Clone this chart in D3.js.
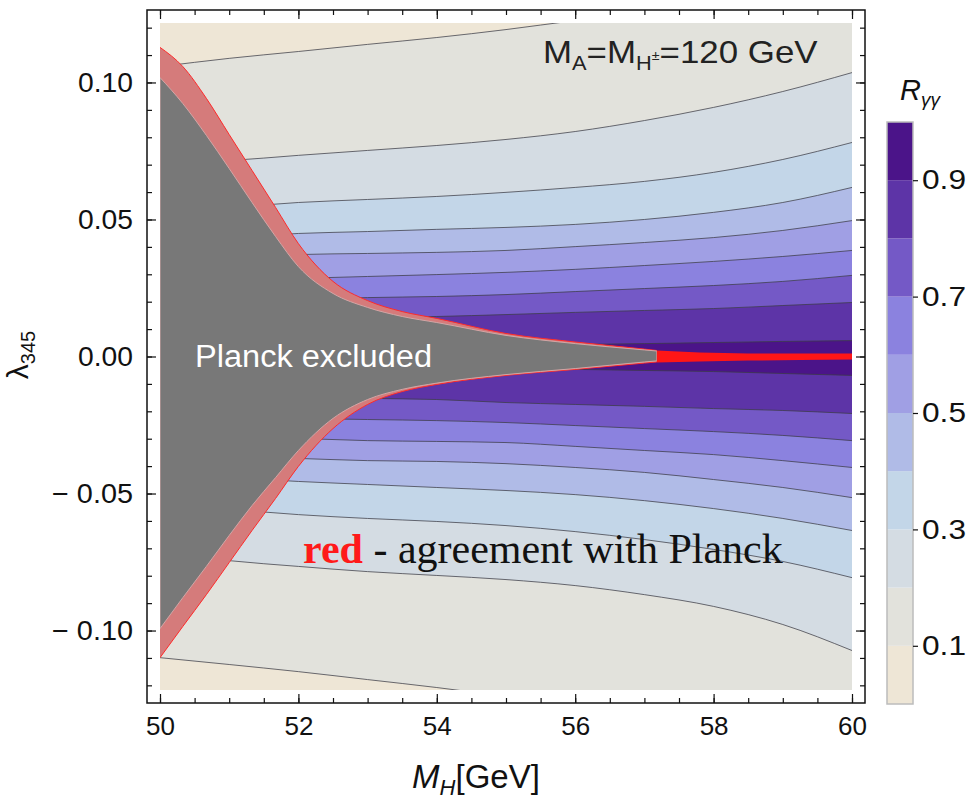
<!DOCTYPE html>
<html>
<head>
<meta charset="utf-8">
<script src="https://cdn.jsdelivr.net/npm/d3@7"></script>
<style>
body { margin: 0; background: #fff; }
svg { display: block; }
</style>
</head>
<body>
<div id="chart"></div>
<script>
// lambda_345 of each R_gg contour at these M_H values
var massPts = [50, 51, 52, 53, 54, 55, 56, 57, 58, 59, 60];
var levels = [0.1, 0.2, 0.3, 0.4, 0.5, 0.6, 0.7, 0.8, 0.9];

var upperLambda = [
  [0.1058, 0.1088, 0.1113, 0.1139, 0.1164, 0.1193, 0.1226, 0.1255, 0.1281, 0.1307, 0.1332],
  [0.0704, 0.0715, 0.0734, 0.0752, 0.0770, 0.0792, 0.0821, 0.0861, 0.0909, 0.0967, 0.1036],
  [0.0533, 0.0544, 0.0562, 0.0573, 0.0584, 0.0599, 0.0617, 0.0639, 0.0672, 0.0719, 0.0781],
  [0.0423, 0.0434, 0.0449, 0.0456, 0.0464, 0.0471, 0.0482, 0.0500, 0.0526, 0.0562, 0.0617],
  [0.0343, 0.0358, 0.0372, 0.0376, 0.0380, 0.0387, 0.0401, 0.0416, 0.0434, 0.0460, 0.0496],
  [0.0270, 0.0277, 0.0285, 0.0292, 0.0299, 0.0307, 0.0318, 0.0332, 0.0347, 0.0365, 0.0387],
  [0.0201, 0.0204, 0.0208, 0.0215, 0.0219, 0.0226, 0.0237, 0.0248, 0.0259, 0.0274, 0.0296],
  [0.0135, 0.0139, 0.0139, 0.0142, 0.0146, 0.0153, 0.0161, 0.0168, 0.0175, 0.0186, 0.0197],
  [0.0029, 0.0033, 0.0033, 0.0036, 0.0036, 0.0040, 0.0044, 0.0047, 0.0051, 0.0055, 0.0058]
];
var lowerLambda = [
  [-0.1099, -0.1124, -0.1150, -0.1179, -0.1208, -0.1241, -0.1277, -0.1318, -0.1361, -0.1409, -0.1460],
  [-0.0715, -0.0745, -0.0766, -0.0785, -0.0799, -0.0814, -0.0836, -0.0869, -0.0912, -0.0978, -0.1073],
  [-0.0544, -0.0558, -0.0577, -0.0591, -0.0602, -0.0617, -0.0639, -0.0668, -0.0704, -0.0748, -0.0807],
  [-0.0431, -0.0442, -0.0456, -0.0467, -0.0478, -0.0489, -0.0504, -0.0526, -0.0555, -0.0591, -0.0635],
  [-0.0361, -0.0365, -0.0372, -0.0380, -0.0383, -0.0391, -0.0405, -0.0423, -0.0449, -0.0478, -0.0515],
  [-0.0292, -0.0296, -0.0299, -0.0307, -0.0310, -0.0314, -0.0328, -0.0343, -0.0358, -0.0380, -0.0405],
  [-0.0219, -0.0223, -0.0226, -0.0230, -0.0234, -0.0241, -0.0252, -0.0263, -0.0274, -0.0288, -0.0307],
  [-0.0142, -0.0146, -0.0150, -0.0153, -0.0157, -0.0168, -0.0175, -0.0182, -0.0190, -0.0197, -0.0208],
  [-0.0036, -0.0036, -0.0040, -0.0040, -0.0044, -0.0044, -0.0047, -0.0051, -0.0055, -0.0062, -0.0069]
];

// colours of the bands 0-0.1, 0.1-0.2, ... 0.9-1
var bandColors = ["#eee6d6", "#e2e2dc", "#d4dce3", "#c3d6e8", "#b0bbe7", "#a09fe4", "#8b82df", "#7459c6", "#5d34a7", "#4b1489"];

// Planck excluded region (grey) and its red rim
var exclMass   = [50, 50.33, 50.67, 51, 51.33, 51.67, 52, 52.5, 53, 53.5, 54, 55, 56, 57, 57.18];
var redUpper   = [0.1128, 0.1058, 0.0942, 0.0810, 0.0679, 0.0544, 0.0412, 0.0274, 0.0204, 0.0164, 0.0139, 0.0084, 0.0053, 0.0027, 0.0022];
var greyUpper  = [0.1018, 0.0923, 0.0807, 0.0686, 0.0562, 0.0438, 0.0328, 0.0230, 0.0179, 0.0146, 0.0124, 0.0077, 0.0047, 0.0024, 0.0020];
var greyLower  = [-0.0993, -0.0880, -0.0766, -0.0653, -0.0544, -0.0442, -0.0343, -0.0226, -0.0157, -0.0120, -0.0097, -0.0066, -0.0044, -0.0020, -0.0016];
var redLower   = [-0.1099, -0.0985, -0.0869, -0.0752, -0.0635, -0.0518, -0.0401, -0.0263, -0.0175, -0.0128, -0.0102, -0.0069, -0.0047, -0.0024, -0.0020];

// thin red strip: agreement with Planck
var agreeMass   = [57.18, 57.8, 58.5, 59.25, 60];
var agreeTop    = [0.0022, 0.0015, 0.0011, 0.0011, 0.0011];
var agreeBottom = [-0.0022, -0.0018, -0.0015, -0.0013, -0.0011];

var xTicks = [50, 52, 54, 56, 58, 60];
var yTicks = [-0.10, -0.05, 0, 0.05, 0.10];
var barTicks = [0.1, 0.3, 0.5, 0.7, 0.9];

var W = 975, H = 799;
var frame = { left: 147, right: 865, top: 10, bottom: 703 };
var sans = "'Liberation Sans', Arial, Helvetica, sans-serif";

var x = d3.scaleLinear().domain([50, 60]).range([160, 852]);
var y = d3.scaleLinear().domain([-0.1217, 0.1217]).range([690, 23]);

var svg = d3.select("#chart").append("svg")
  .attr("width", W)
  .attr("height", H);

svg.append("defs").append("clipPath")
  .attr("id", "plotclip")
  .append("rect")
  .attr("x", 160).attr("y", 23)
  .attr("width", 692).attr("height", 667);

var plot = svg.append("g").attr("clip-path", "url(#plotclip)");

plot.append("rect")
  .attr("x", 160).attr("y", 23)
  .attr("width", 692).attr("height", 667)
  .attr("fill", bandColors[0]);

var band = d3.area()
  .x(function (d) { return x(d.m); })
  .y0(function (d) { return y(d.lo); })
  .y1(function (d) { return y(d.hi); })
  .curve(d3.curveMonotoneX);

var line = d3.line()
  .x(function (d) { return x(d.m); })
  .y(function (d) { return y(d.v); })
  .curve(d3.curveMonotoneX);

// nested bands, outermost first
levels.forEach(function (lv, k) {
  var pts = massPts.map(function (m, i) {
    return { m: m, hi: upperLambda[k][i], lo: lowerLambda[k][i] };
  });
  plot.append("path").datum(pts)
    .attr("d", band)
    .attr("fill", bandColors[k + 1]);
});

// contour lines
levels.forEach(function (lv, k) {
  [upperLambda[k], lowerLambda[k]].forEach(function (arr) {
    plot.append("path")
      .datum(massPts.map(function (m, i) { return { m: m, v: arr[i] }; }))
      .attr("d", line)
      .attr("fill", "none")
      .attr("stroke", "#3c3c46")
      .attr("stroke-opacity", 0.75)
      .attr("stroke-width", 1);
  });
});

// excluded region
var excl = exclMass.map(function (m, i) {
  return { m: m, ru: redUpper[i], gu: greyUpper[i], gl: greyLower[i], rl: redLower[i] };
});

plot.append("path").datum(excl.map(function (d) { return { m: d.m, hi: d.ru, lo: d.rl }; }))
  .attr("d", band)
  .attr("fill", "#d57b7b");

["ru", "rl"].forEach(function (key) {
  plot.append("path")
    .datum(excl.map(function (d) { return { m: d.m, v: d[key] }; }))
    .attr("d", line)
    .attr("fill", "none")
    .attr("stroke", "#ff2a2a")
    .attr("stroke-width", 1);
});

plot.append("path").datum(excl.map(function (d) { return { m: d.m, hi: d.gu, lo: d.gl }; }))
  .attr("d", band)
  .attr("fill", "#787878")
  .attr("stroke", "#d2a6a6")
  .attr("stroke-width", 1);

plot.append("path")
  .datum(agreeMass.map(function (m, i) { return { m: m, hi: agreeTop[i], lo: agreeBottom[i] }; }))
  .attr("d", band.curve(d3.curveLinear))
  .attr("fill", "#ff1616");

// texts inside the plot
svg.append("text")
  .attr("x", 195).attr("y", 367)
  .attr("font-family", sans)
  .attr("font-size", 31)
  .attr("fill", "#ffffff")
  .attr("textLength", 237)
  .attr("lengthAdjust", "spacingAndGlyphs")
  .text("Planck excluded");

var note = svg.append("text")
  .attr("x", 303).attr("y", 563)
  .attr("font-family", "'Liberation Serif', 'Times New Roman', serif")
  .attr("font-size", 42)
  .attr("fill", "#111");
note.append("tspan").attr("fill", "#ff1a1a").attr("font-weight", "bold").text("red");
note.append("tspan").text(" - agreement with Planck");

var mass = svg.append("g")
  .attr("transform", "translate(543,63) scale(1.09,1)")
  .append("text")
  .attr("font-family", sans)
  .attr("font-size", 32)
  .attr("fill", "#222");
mass.append("tspan").text("M");
mass.append("tspan").attr("font-size", 20).attr("dy", 7).text("A");
mass.append("tspan").attr("dy", -7).text("=M");
mass.append("tspan").attr("font-size", 20).attr("dy", 7).text("H");
mass.append("tspan").attr("font-size", 13).attr("dy", -10).text("±");
mass.append("tspan").attr("dy", 3).text("=120 GeV");

// frame axes with inward ticks
function clean(g) {
  g.select(".domain").remove();
  g.selectAll("line").attr("stroke", "#111").attr("stroke-width", 1.2);
  g.attr("font-family", sans).attr("font-size", 26).attr("fill", "#111");
  g.selectAll("text").attr("fill", "#111");
}

var minorX = d3.range(50, 60.001, 0.5);
var minorY = d3.range(-12, 12.5, 1).map(function (v) { return v / 100; });

svg.append("g").attr("transform", "translate(0," + frame.bottom + ")")
  .call(d3.axisBottom(x).tickValues(minorX).tickSize(-5).tickFormat(""))
  .call(clean);
svg.append("g").attr("transform", "translate(0," + frame.bottom + ")")
  .call(d3.axisBottom(x).tickValues(xTicks).tickSize(-9).tickPadding(14).tickFormat(d3.format("d")))
  .call(clean);
svg.append("g").attr("transform", "translate(0," + frame.top + ")")
  .call(d3.axisTop(x).tickValues(minorX).tickSize(-5).tickFormat(""))
  .call(clean);
svg.append("g").attr("transform", "translate(0," + frame.top + ")")
  .call(d3.axisTop(x).tickValues(xTicks).tickSize(-9).tickFormat(""))
  .call(clean);

var yFmt = function (d) {
  var s = d3.format(".2f")(Math.abs(d));
  return d < 0 ? "\u2212 " + s : s;
};
svg.append("g").attr("transform", "translate(" + frame.left + ",0)")
  .call(d3.axisLeft(y).tickValues(minorY).tickSize(-5).tickFormat(""))
  .call(clean);
svg.append("g").attr("transform", "translate(" + frame.left + ",0)")
  .call(d3.axisLeft(y).tickValues(yTicks).tickSize(-9).tickPadding(14).tickFormat(yFmt))
  .call(clean)
  .call(function (g) {
    g.selectAll("text")
      .attr("font-size", 27)
      .attr("textLength", function (d) { return d < 0 ? 81 : 55; })
      .attr("lengthAdjust", "spacingAndGlyphs");
  });
svg.append("g").attr("transform", "translate(" + frame.right + ",0)")
  .call(d3.axisRight(y).tickValues(minorY).tickSize(-5).tickFormat(""))
  .call(clean);
svg.append("g").attr("transform", "translate(" + frame.right + ",0)")
  .call(d3.axisRight(y).tickValues(yTicks).tickSize(-9).tickFormat(""))
  .call(clean);

svg.append("rect")
  .attr("x", frame.left).attr("y", frame.top)
  .attr("width", frame.right - frame.left)
  .attr("height", frame.bottom - frame.top)
  .attr("fill", "none")
  .attr("stroke", "#111")
  .attr("stroke-width", 1.5);

// axis titles
var xt = svg.append("text")
  .attr("x", 476).attr("y", 788)
  .attr("text-anchor", "middle")
  .attr("font-family", sans)
  .attr("font-size", 33)
  .attr("fill", "#111");
xt.append("tspan").attr("font-style", "italic").text("M");
xt.append("tspan").attr("font-style", "italic").attr("font-size", 22).attr("dy", 7).text("H");
xt.append("tspan").attr("dy", -7).text("[GeV]");

var yt = svg.append("text")
  .attr("transform", "translate(28,355) rotate(-90)")
  .attr("text-anchor", "middle")
  .attr("font-family", sans)
  .attr("font-size", 30)
  .attr("fill", "#111");
yt.append("tspan").text("\u03bb");
yt.append("tspan").attr("font-size", 20).attr("dy", 7).text("345");

// colour bar
var cb = d3.scaleLinear().domain([0, 1]).range([704, 122]);
var bar = svg.append("g");
bandColors.forEach(function (c, i) {
  bar.append("rect")
    .attr("x", 887)
    .attr("y", cb((i + 1) / 10))
    .attr("width", 26)
    .attr("height", cb(i / 10) - cb((i + 1) / 10))
    .attr("fill", c);
});
bar.append("rect")
  .attr("x", 887).attr("y", 122)
  .attr("width", 26).attr("height", 582)
  .attr("fill", "none")
  .attr("stroke", "#bcbcbc")
  .attr("stroke-width", 1.5);
svg.append("g").attr("transform", "translate(913,0)")
  .call(d3.axisRight(cb).tickValues(barTicks).tickSize(5).tickPadding(4).tickFormat(d3.format(".1f")))
  .call(clean)
  .call(function (g) {
    g.selectAll("text")
      .attr("font-size", 27)
      .attr("textLength", 44)
      .attr("lengthAdjust", "spacingAndGlyphs");
  });

var rt = svg.append("text")
  .attr("x", 900).attr("y", 100)
  .attr("font-family", sans)
  .attr("font-size", 29)
  .attr("font-style", "italic")
  .attr("fill", "#111");
rt.append("tspan").text("R");
rt.append("tspan").attr("font-size", 19).attr("dy", 6).text("\u03b3\u03b3");
</script>
</body>
</html>
